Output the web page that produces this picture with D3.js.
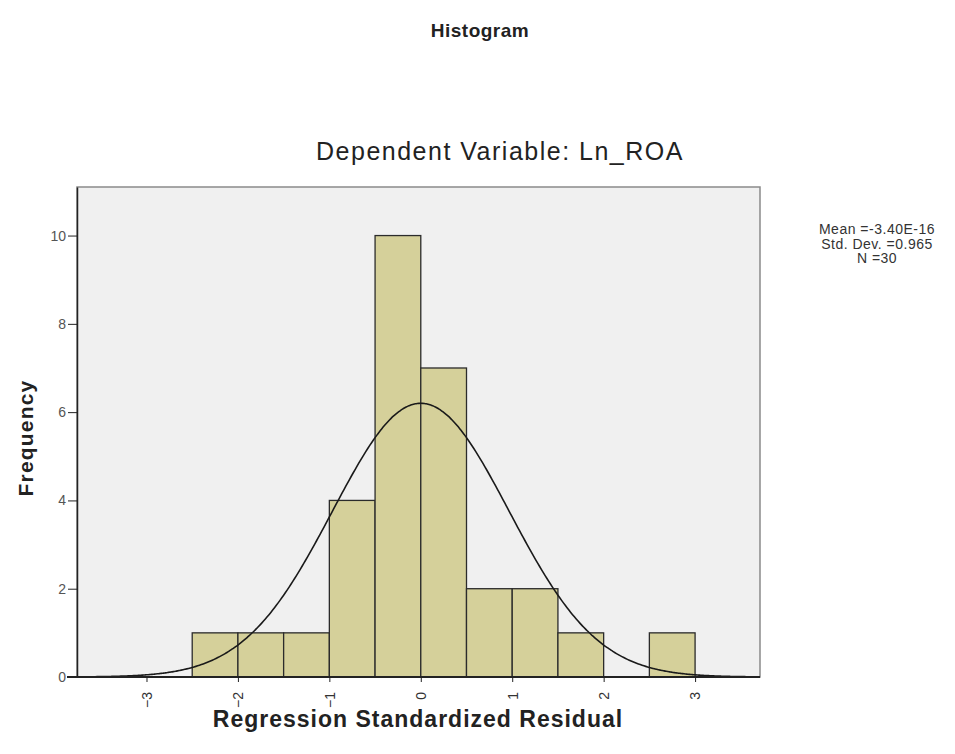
<!DOCTYPE html>
<html>
<head>
<meta charset="utf-8">
<script src="https://cdn.jsdelivr.net/npm/d3@7"></script>
<style>
  body { margin: 0; background: #fff; }
  text { font-family: Arial, "Liberation Sans", sans-serif; }
  .axis path, .axis line { stroke: #222; }
</style>
</head>
<body>
<div id="chart"></div>
<script>
// Bins of the standardized residual (lower edges), width 0.5
var binStarts = [-2.5, -2.0, -1.5, -1.0, -0.5, 0.0, 0.5, 1.0, 1.5, 2.0, 2.5];
var binCounts = [1, 1, 1, 4, 10, 7, 2, 2, 1, 0, 1];
var binWidth = 0.5;

var xTicks = [-3, -2, -1, 0, 1, 2, 3];
var yTicks = [0, 2, 4, 6, 8, 10];

// Summary stats shown in the legend
var statMean = -3.40e-16, statSD = 0.965, statN = 30;
var statLabels = ["Mean =-3.40E-16", "Std. Dev. =0.965", "N =30"];

var W = 955, H = 754;
var plot = {left: 77, right: 760, top: 187, bottom: 677};

var svg = d3.select("#chart").append("svg")
    .attr("width", W)
    .attr("height", H);

var x = d3.scaleLinear().domain([-3.76, 3.71]).range([plot.left, plot.right]);
var y = d3.scaleLinear().domain([0, 11.1]).range([plot.bottom, plot.top]);

// plot background + frame
svg.append("rect")
    .attr("x", plot.left).attr("y", plot.top)
    .attr("width", plot.right - plot.left)
    .attr("height", plot.bottom - plot.top)
    .attr("fill", "#f0f0f0")
    .attr("stroke", "#8a8a8a")
    .attr("stroke-width", 1.5);

// bars
svg.append("g").selectAll("rect")
  .data(binStarts.map(function(s, i) { return {x0: s, n: binCounts[i]}; })
                 .filter(function(d) { return d.n > 0; }))
  .enter().append("rect")
    .attr("x", function(d) { return x(d.x0); })
    .attr("y", function(d) { return y(d.n); })
    .attr("width", function(d) { return x(d.x0 + binWidth) - x(d.x0); })
    .attr("height", function(d) { return y(0) - y(d.n); })
    .attr("fill", "#d5d09a")
    .attr("stroke", "#2b2b2b")
    .attr("stroke-width", 1.3);

// normal curve from the listed mean / sd / N
var curvePts = d3.range(-3.76, 3.71, 0.02).map(function(v) {
  var z = (v - statMean) / statSD;
  return [v, statN * binWidth * Math.exp(-0.5 * z * z) / (statSD * Math.sqrt(2 * Math.PI))];
});
var line = d3.line()
    .x(function(d) { return x(d[0]); })
    .y(function(d) { return y(d[1]); })
    .curve(d3.curveBasis);
svg.append("path")
    .datum(curvePts)
    .attr("d", line)
    .attr("fill", "none")
    .attr("stroke", "#1a1a1a")
    .attr("stroke-width", 1.6);

// y axis
var gy = svg.append("g")
    .attr("class", "axis")
    .attr("transform", "translate(" + plot.left + ",0)")
    .call(d3.axisLeft(y).tickValues(yTicks).tickSize(9).tickSizeOuter(0));
gy.select(".domain").attr("stroke", "#666").attr("stroke-width", 1.5);
gy.selectAll("text")
    .style("font-size", "14px").style("fill", "#555")
    .attr("x", -11);

// x axis
var gx = svg.append("g")
    .attr("class", "axis")
    .attr("transform", "translate(0," + plot.bottom + ")")
    .call(d3.axisBottom(x).tickValues(xTicks).tickSize(5).tickSizeOuter(0));
gx.select(".domain").attr("d", "M" + (plot.left - 10) + ",0H" + plot.right)
    .attr("stroke", "#222").attr("stroke-width", 2);
gx.selectAll("text")
    .attr("transform", "rotate(-90)")
    .attr("x", -15).attr("y", 0).attr("dy", "0.35em")
    .style("text-anchor", "end")
    .style("font-size", "14px").style("fill", "#333");

// titles
svg.append("text")
    .attr("x", 480).attr("y", 37)
    .attr("text-anchor", "middle")
    .attr("font-size", 19).attr("font-weight", "bold")
    .attr("letter-spacing", 0.5)
    .attr("fill", "#222")
    .text("Histogram");

svg.append("text")
    .attr("x", 500).attr("y", 160)
    .attr("text-anchor", "middle")
    .attr("font-size", 25)
    .attr("letter-spacing", 1.5)
    .attr("fill", "#222")
    .text("Dependent Variable: Ln_ROA");

svg.append("text")
    .attr("x", 418).attr("y", 727)
    .attr("text-anchor", "middle")
    .attr("font-size", 23).attr("font-weight", "bold")
    .attr("letter-spacing", 1)
    .attr("fill", "#222")
    .text("Regression Standardized Residual");

svg.append("text")
    .attr("transform", "translate(33,438) rotate(-90)")
    .attr("text-anchor", "middle")
    .attr("font-size", 21).attr("font-weight", "bold")
    .attr("letter-spacing", 1.2)
    .attr("fill", "#222")
    .text("Frequency");

// stats legend
svg.append("g").selectAll("text")
  .data(statLabels)
  .enter().append("text")
    .attr("x", 877)
    .attr("y", function(d, i) { return 234 + i * 14.5; })
    .attr("text-anchor", "middle")
    .attr("font-size", 14)
    .attr("letter-spacing", 0.5)
    .attr("fill", "#333")
    .text(function(d) { return d; });
</script>
</body>
</html>
